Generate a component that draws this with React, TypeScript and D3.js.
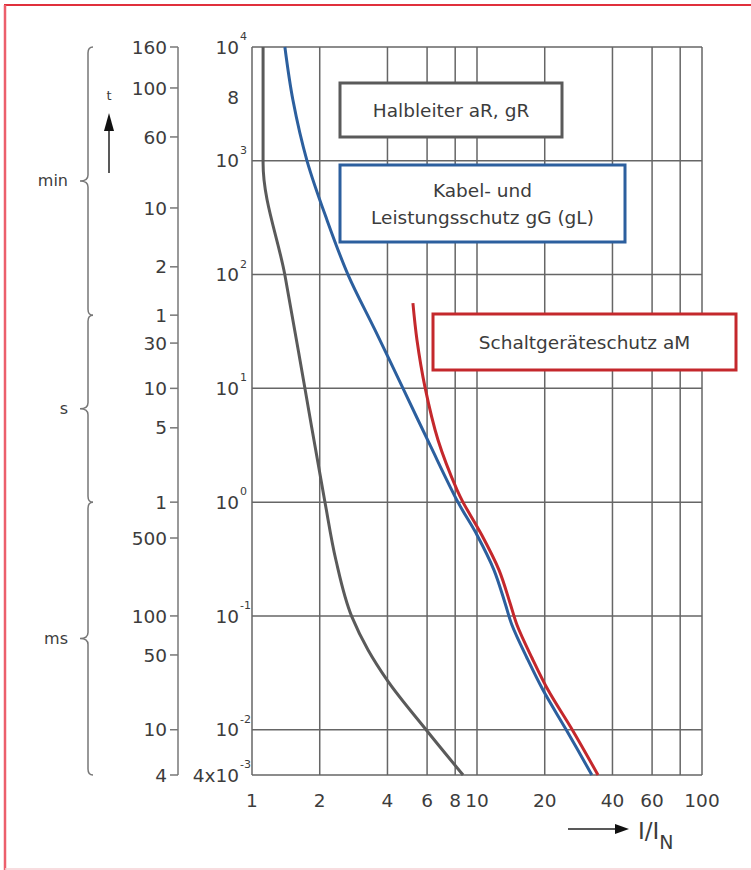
import React from "react";
import * as d3 from "d3";

// Grid & tick values
const xGridValues = [1, 2, 4, 6, 8, 10, 20, 40, 60, 80, 100];
const xTickLabels = [1, 2, 4, 6, 8, 10, 20, 40, 60, 100];
const yGridValues = [1e4, 1e3, 1e2, 1e1, 1, 0.1, 0.01, 0.004];

// Power-of-ten column (seconds)
const powerMain = ["10", "8", "10", "10", "10", "10", "10", "10", "4x10"];
const powerExp = ["4", "", "3", "2", "1", "0", "-1", "-2", "-3"];
const powerAt = [1e4, 3640, 1e3, 1e2, 10, 1, 0.1, 0.01, 0.004];

// Time column (min / s / ms) and the positions at which they are drawn (in seconds)
const timeLabels = ["160", "100", "60", "10", "2", "1", "30", "10", "5", "1", "500", "100", "50", "10", "4"];
const timeAt = [1e4, 4365, 1620, 385, 117, 44, 25, 10, 4.5, 1, 0.484, 0.1, 0.0454, 0.01, 0.004];

const unitNames = ["min", "s", "ms"];
const unitFrom = [1e4, 44, 1];
const unitTo = [44, 1, 0.004];

// Curves: [I/IN, t in seconds]
const halbleiter: [number, number][] = [
  [1.12, 1e4], [1.12, 957], [1.4, 99], [1.72, 9.9], [2.11, 1],
  [2.36, 0.31], [2.78, 0.098], [3.28, 0.0502], [3.98, 0.0274],
  [6.0, 0.00975], [8.67, 0.004],
];
const kabel: [number, number][] = [
  [1.4, 1e4], [1.52, 3420], [1.756, 1000], [2.154, 302], [2.67, 100], [3.52, 32.6],
  [4.69, 10], [6.18, 3.18], [8.23, 1], [10, 0.515], [11.9, 0.253], [13.32, 0.13],
  [14.3, 0.0832], [16.68, 0.0427], [19.65, 0.0223], [25.1, 0.00975], [32.4, 0.004],
];
const schalt: [number, number][] = [
  [5.19, 56], [5.41, 26.6], [5.87, 10.3], [6.71, 3.52], [8.15, 1.28], [8.66, 1],
  [10.5, 0.515], [12.53, 0.253], [14.02, 0.13], [15.06, 0.0832], [17.56, 0.0427],
  [20.7, 0.0223], [26.7, 0.00975], [34.5, 0.004],
];

const legendLines = [["Halbleiter aR, gR"], ["Kabel- und", "Leistungsschutz gG (gL)"], ["Schaltgeräteschutz aM"]];

const GRAY = "#5a5a5a";
const BLUE = "#2c5f9e";
const RED = "#c4282c";
const TEXT = "#3c3c3c";
const FONT = "'DejaVu Sans', sans-serif";

export default function App() {
  const x = d3.scaleLog().domain([1, 100]).range([252, 702]);
  const y = d3.scaleLog().domain([0.004, 1e4]).range([775, 47]);
  const smooth = d3
    .line<[number, number]>()
    .x((d) => x(d[0]))
    .y((d) => y(d[1]))
    .curve(d3.curveCatmullRom.alpha(0.5));
  const mono = d3
    .line<[number, number]>()
    .x((d) => x(d[0]))
    .y((d) => y(d[1]))
    .curve(d3.curveMonotoneY);

  const axisX = 178;
  const braceX = 88;
  const bracePath = (bx: number, y0: number, y1: number) => {
    const ym = (y0 + y1) / 2;
    return `M${bx + 5},${y0} Q${bx},${y0} ${bx},${y0 + 6} L${bx},${ym - 6} Q${bx},${ym} ${bx - 8},${ym} Q${bx},${ym} ${bx},${ym + 6} L${bx},${y1 - 6} Q${bx},${y1} ${bx + 5},${y1}`;
  };

  const boxes = [
    { x: 340, y: 83, w: 222, h: 54, color: GRAY },
    { x: 340, y: 165, w: 285, h: 77, color: BLUE },
    { x: 433, y: 314, w: 303, h: 56, color: RED },
  ];

  return (
    <svg
      width={751}
      height={870}
      style={{ position: "absolute", left: 0, top: 0, display: "block", background: "#fff" }}
      fontFamily={FONT}
    >
      <rect x={0} y={0} width={751} height={870} fill="#fff" />
      {/* outer frame */}
      <line x1={4} x2={751} y1={5} y2={5} stroke="#e0303c" strokeWidth={2} />
      <line x1={5} x2={5} y1={5} y2={870} stroke="#ec5f6c" strokeWidth={2.5} />
      <line x1={5} x2={751} y1={869} y2={869} stroke="#f6d0d4" strokeWidth={1.5} />

      {/* grid */}
      {xGridValues.map((v) => (
        <line key={"vx" + v} x1={x(v)} x2={x(v)} y1={y(1e4)} y2={y(0.004)} stroke="#666" strokeWidth={1.5} />
      ))}
      {yGridValues.map((v) => (
        <line key={"hy" + v} x1={x(1)} x2={x(100)} y1={y(v)} y2={y(v)} stroke="#666" strokeWidth={1.5} />
      ))}

      {/* power labels */}
      {powerMain.map((m, i) => (
        <g key={"p" + i}>
          <text x={239} y={y(powerAt[i])} dy="0.36em" textAnchor="end" fontSize={18.5} fill={TEXT}>
            {m}
          </text>
          {powerExp[i] && (
            <text x={240} y={y(powerAt[i]) - 7} textAnchor="start" fontSize={11} fill={TEXT}>
              {powerExp[i]}
            </text>
          )}
        </g>
      ))}

      {/* time axis */}
      <line x1={axisX} x2={axisX} y1={y(1e4)} y2={y(0.004)} stroke="#777" strokeWidth={1.5} />
      {timeLabels.map((l, i) => (
        <g key={"t" + i}>
          <line x1={axisX - 8} x2={axisX} y1={y(timeAt[i])} y2={y(timeAt[i])} stroke="#777" strokeWidth={1.5} />
          <text x={axisX - 11} y={y(timeAt[i])} dy="0.36em" textAnchor="end" fontSize={18.5} fill={TEXT}>
            {l}
          </text>
        </g>
      ))}

      {/* braces */}
      {unitNames.map((u, i) => {
        const y0 = y(unitFrom[i]);
        const y1 = y(unitTo[i]);
        return (
          <g key={"u" + u}>
            <path d={bracePath(braceX, y0, y1)} fill="none" stroke="#777" strokeWidth={1.5} />
            <text x={68} y={(y0 + y1) / 2} dy="0.32em" textAnchor="end" fontSize={16} fill={TEXT}>
              {u}
            </text>
          </g>
        );
      })}

      {/* t arrow */}
      <text x={109} y={95} dy="0.35em" textAnchor="middle" fontSize={13} fill={TEXT}>
        t
      </text>
      <line x1={109} x2={109} y1={173} y2={128} stroke="#222" strokeWidth={1.5} />
      <polygon points="104,131 109,113 114,131" fill="#111" />

      {/* x labels */}
      {xTickLabels.map((v) => (
        <text key={"xl" + v} x={x(v)} y={800} dy="0.36em" textAnchor="middle" fontSize={18.5} fill={TEXT}>
          {v}
        </text>
      ))}

      {/* I/IN arrow */}
      <line x1={568} x2={618} y1={829} y2={829} stroke="#222" strokeWidth={1.5} />
      <polygon points="615,824 629,829 615,834" fill="#111" />
      <text x={638} y={839} fontSize={23} fill={TEXT}>
        I/I
        <tspan dy={10} fontSize={19}>
          N
        </tspan>
      </text>

      {/* legend boxes */}
      {boxes.map((b, i) => {
        const lines = legendLines[i];
        const cx = b.x + b.w / 2;
        const cy = b.y + b.h / 2;
        return (
          <g key={"b" + i}>
            <rect x={b.x} y={b.y} width={b.w} height={b.h} fill="#fff" stroke={b.color} strokeWidth={3} />
            {lines.map((t, j) => (
              <text
                key={j}
                x={cx}
                y={cy + (j - (lines.length - 1) / 2) * 27}
                dy="0.36em"
                textAnchor="middle"
                fontSize={18.5}
                fill={TEXT}
              >
                {t}
              </text>
            ))}
          </g>
        );
      })}

      {/* curves */}
      <path d={mono(halbleiter) || ""} fill="none" stroke={GRAY} strokeWidth={3} />
      <path d={smooth(kabel) || ""} fill="none" stroke={BLUE} strokeWidth={3} />
      <path d={smooth(schalt) || ""} fill="none" stroke={RED} strokeWidth={3} />
    </svg>
  );
}
